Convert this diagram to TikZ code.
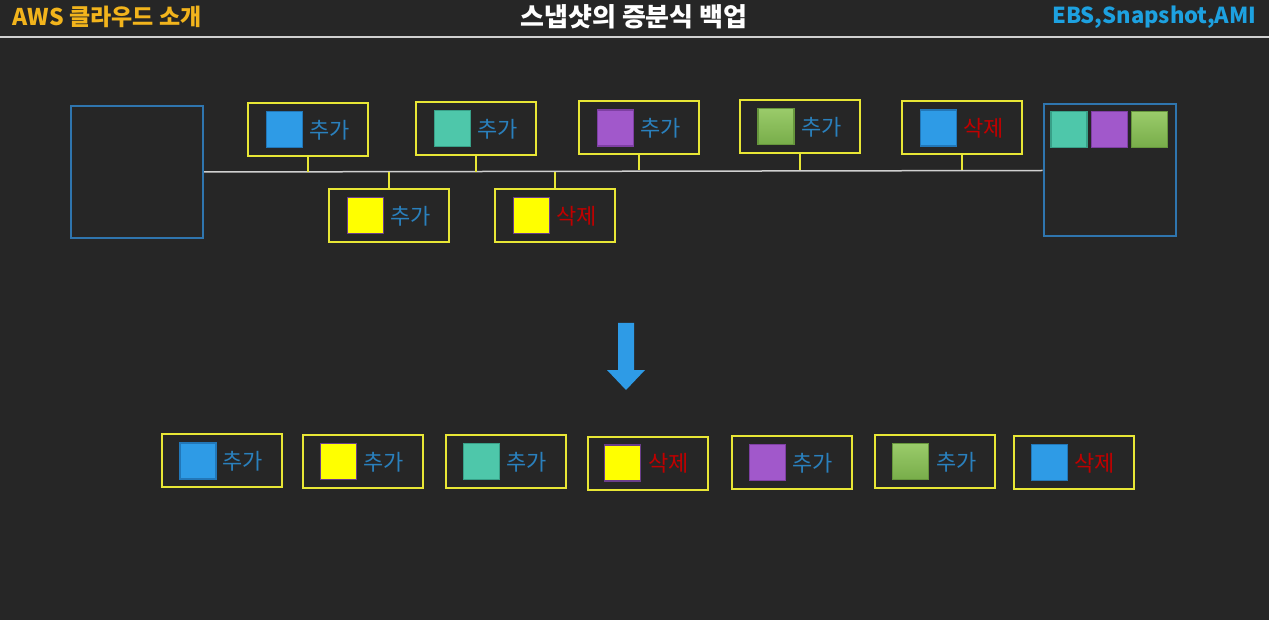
\documentclass[tikz,border=0pt]{standalone}
\usepackage{fontspec}
\setmainfont{Noto Sans CJK KR}
\definecolor{bg}{HTML}{262626}
\definecolor{ybord}{HTML}{E8E635}
\definecolor{bbord}{HTML}{2F75AE}
\definecolor{sqblue}{HTML}{2E9BE6}
\definecolor{sqblueb}{HTML}{2277B8}
\definecolor{sqteal}{HTML}{4EC7AA}
\definecolor{sqtealb}{HTML}{38A088}
\definecolor{sqpurple}{HTML}{A158CB}
\definecolor{sqpurpleb}{HTML}{7E3FA3}
\definecolor{sqgreenT}{HTML}{9ACB6A}
\definecolor{sqgreenB}{HTML}{78AD4A}
\definecolor{sqgreenb}{HTML}{66963C}
\definecolor{sqyellow}{HTML}{FFFF00}
\definecolor{sqyellowb}{HTML}{6A3E8A}
\definecolor{addtxt}{HTML}{2A80BD}
\definecolor{deltxt}{HTML}{C00000}
\definecolor{ttlorange}{HTML}{F2B41C}
\definecolor{ttlblue}{HTML}{1DA1E0}
\definecolor{linegray}{HTML}{D0D0D0}
\tikzset{
  ybox/.style={draw=ybord, line width=2pt, minimum width=120pt, minimum height=53pt, inner sep=0pt},
  bigbox/.style={draw=bbord, line width=2pt, minimum width=132pt, minimum height=132pt, inner sep=0pt},
  sq/.style={line width=1.5pt, minimum size=36pt, inner sep=0pt},
  sqB/.style={sq, fill=sqblue, draw=sqblueb},
  sqT/.style={sq, fill=sqteal, draw=sqtealb},
  sqP/.style={sq, fill=sqpurple, draw=sqpurpleb},
  sqG/.style={sq, top color=sqgreenT, bottom color=sqgreenB, draw=sqgreenb},
  sqY/.style={sq, fill=sqyellow, draw=sqyellowb},
  lbl/.style={anchor=west, inner sep=0pt, font=\fontsize{22}{22}\selectfont},
  addl/.style={lbl, text=addtxt},
  dell/.style={lbl, text=deltxt},
  conn/.style={draw=ybord, line width=1.2pt},
  tline/.style={draw=linegray, line width=1.5pt},
}
\begin{document}
\begin{tikzpicture}[x=1pt,y=-1pt]
\fill[bg] (0,0) rectangle (1269,620);
\useasboundingbox (0,0) rectangle (1269,620);
% header
\node[anchor=west, text=ttlorange, font=\fontsize{23}{23}\selectfont\bfseries] (hl) at (9,17) {AWS 클라우드 소개};
\node[text=white, font=\fontsize{26}{26}\selectfont\bfseries] (hc) at (634,17) {스냅샷의 증분식 백업};
\node[anchor=east, text=ttlblue, font=\fontsize{22}{22}\selectfont\bfseries] (hr) at (1260,17) {EBS,Snapshot,AMI};
\draw[draw=linegray, line width=1.5pt] (0,37) -- (1269,37);
% big boxes
\node[bigbox] (L) at (137,172) {};
\node[bigbox] (R) at (1109.5,170.5) {};
\node[sqT] (r1) at (1069,129.5) {};
\node[sqP] (r2) at (1109.5,129.5) {};
\node[sqG] (r3) at (1149.5,129.5) {};
\draw[tline] (L.east) -- (R.west);
% top-row boxes
\node[ybox] (t1) at (308,129.5) {};
\node[sqB] at (284.5,129.5) {};
\node[addl] at (309,130) {추가};
\node[ybox] (t2) at (476,128.5) {};
\node[sqT] at (452.5,128.5) {};
\node[addl] at (477,129) {추가};
\node[ybox] (t3) at (639,128) {};
\node[sqP] at (615.5,128) {};
\node[addl] at (640,128.5) {추가};
\node[ybox] (t4) at (800,126.5) {};
\node[sqG] at (776,126.5) {};
\node[addl] at (801,127) {추가};
\node[ybox] (t5) at (962,128) {};
\node[sqB] at (938.5,128) {};
\node[dell] at (963,128.5) {삭제};
% lower-row boxes
\node[ybox] (b1) at (389,215.5) {};
\node[sqY] at (365.5,215.5) {};
\node[addl] at (390,216) {추가};
\node[ybox] (b2) at (555,215.5) {};
\node[sqY] at (531.5,215.5) {};
\node[dell] at (556,216) {삭제};
% connectors
\draw[conn] (t1.south) -- (t1.south |- L.east);
\draw[conn] (t2.south) -- (t2.south |- L.east);
\draw[conn] (t3.south) -- (t3.south |- R.west);
\draw[conn] (t4.south) -- (t4.south |- R.west);
\draw[conn] (t5.south) -- (t5.south |- R.west);
\draw[conn] (b1.north) -- (b1.north |- L.east);
\draw[conn] (b2.north) -- (b2.north |- L.east);
% arrow
\fill[sqblue] (618,323) -- (634,323) -- (634,370) -- (645,370) -- (626,390) -- (607,370) -- (618,370) -- cycle;
% result row
\node[ybox] (s1) at (221.5,460.5) {};
\node[sqB] at (198,461) {};
\node[addl] at (222.5,461.5) {추가};
\node[ybox] (s2) at (362.5,461.5) {};
\node[sqY] at (338.5,461.5) {};
\node[addl] at (363.5,462) {추가};
\node[ybox] (s3) at (505.5,461.5) {};
\node[sqT] at (481.5,461.5) {};
\node[addl] at (506.5,462) {추가};
\node[ybox] (s4) at (647.5,463) {};
\node[sqY] at (622.5,463) {};
\node[dell] at (648.5,463.5) {삭제};
\node[ybox] (s5) at (791.5,462.5) {};
\node[sqP] at (767.5,462.5) {};
\node[addl] at (792.5,463) {추가};
\node[ybox] (s6) at (935,461.5) {};
\node[sqG] at (910.5,461.5) {};
\node[addl] at (936,462) {추가};
\node[ybox] (s7) at (1073.5,462.5) {};
\node[sqB] at (1049.5,462.5) {};
\node[dell] at (1074.5,463) {삭제};
\end{tikzpicture}
\end{document}
